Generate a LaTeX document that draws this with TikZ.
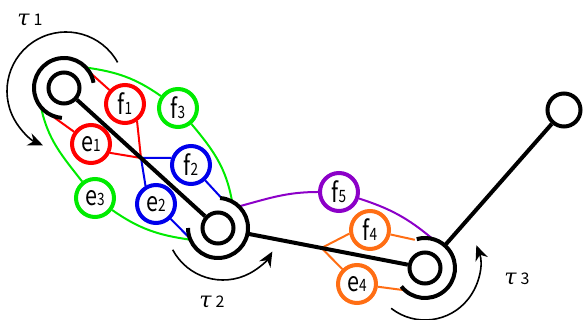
\documentclass[tikz,border=0pt]{standalone}
\usepackage{fontspec}
\setmainfont{Noto Sans CJK JP}
\newfontfamily\taufont{DejaVu Serif}
\usepackage{graphicx}
\usetikzlibrary{arrows.meta,calc}
\definecolor{cred}{RGB}{255,0,0}
\definecolor{cgreen}{RGB}{0,235,0}
\definecolor{cblue}{RGB}{0,0,235}
\definecolor{cpurple}{RGB}{140,0,200}
\definecolor{corange}{RGB}{255,110,20}
\newcommand\jointlbl[2]{\scalebox{0.8}[1]{\fontsize{27}{27}\selectfont #1\fontsize{17}{17}\selectfont #2}}
\newcommand\taulabel[1]{{\taufont\fontsize{22}{22}\selectfont\itshape τ}\hspace{4pt}{\fontsize{16}{16}\selectfont #1}}
\begin{document}
\begin{tikzpicture}[x=1pt,y=1pt,
  jin/.style={circle,draw,line width=4pt,inner sep=0pt,minimum size=31pt},
  jout/.style={circle,inner sep=0pt,outer sep=0pt,minimum size=60pt},
  jarc/.style={line width=4pt},
  link/.style={line width=4pt},
  cnode/.style={circle,draw=#1,line width=4pt,fill=white,inner sep=0pt,minimum size=38pt},
  conn/.style={draw=#1,line width=2pt},
  rot/.style={line width=1.6pt,-{Stealth[length=15pt,width=13pt]}},
  taulbl/.style={inner sep=0pt}
]
\useasboundingbox (0,0) rectangle (584,320);
% joints
\node[jin] (j1) at (64,232) {};
\node[jout] (j1o) at (64,232) {};
\node[jin] (j2) at (218,92) {};
\node[jout] (j2o) at (218,92) {};
\node[jin] (j3) at (425,52) {};
\node[jout] (j3o) at (425,52) {};
\node[jin,minimum size=33pt] (j4) at (564,210) {};
\coordinate (X) at ($(j1)!0.5!(j2)$);
\coordinate (Y) at ($(j2)!0.5!(j3)$);
% coloured nodes
\node[cnode=cred] (f1) at (125,216) {\jointlbl{f}{1}};
\node[cnode=cgreen] (f3) at (178,212) {\jointlbl{f}{3}};
\node[cnode=cred] (e1) at (91,176) {\jointlbl{e}{1}};
\node[cnode=cblue] (f2) at (191,155) {\jointlbl{f}{2}};
\node[cnode=cblue] (e2) at (156,116) {\jointlbl{e}{2}};
\node[cnode=cgreen] (e3) at (95,122) {\jointlbl{e}{3}};
\node[cnode=cpurple] (f5) at (339,128) {\jointlbl{f}{5}};
\node[cnode=corange] (f4) at (370,90) {\jointlbl{f}{4}};
\node[cnode=corange] (e4) at (357,36) {\jointlbl{e}{4}};
% connectors
\draw[conn=cred] (j1o.32) -- (f1);
\draw[conn=cred] (j1o.243) -- (e1);
\draw[conn=cred] (f1.-55) -- (X);
\draw[conn=cred] (e1.-25) -- (X);
\draw[conn=cblue] (X) -- (f2.160);
\draw[conn=cblue] (X) -- (e2.120);
\draw[conn=cblue] (e2) -- (j2o.200);
\draw[conn=cblue] (f2) -- (j2o.83);
\draw[conn=cgreen] (j1o.43) to[out=-8,in=145] (f3) to[out=-50,in=100] (j2o.62);
\draw[conn=cgreen] (j1o.220) to[out=-78,in=128] (e3) to[out=-35,in=172] (j2o.203);
\draw[conn=cpurple] (j2o.46) to[out=15,in=180] (f5) to[out=-18,in=140] (j3o.75);
\draw[conn=corange] (f4) -- (j3o.110);
\draw[conn=corange] (f4.190) -- (Y);
\draw[conn=corange] (Y) -- (e4);
\draw[conn=corange] (e4) -- (j3o.228);
% links and outer arcs
\draw[link] (j1) -- (j2);
\draw[link] (j2o) -- (j3);
\draw[link] (j3o) -- (j4);
\draw[jarc] (j1o.10) arc[start angle=10,end angle=266,radius=30pt];
\draw[jarc] (j2o.180) arc[start angle=180,end angle=446,radius=30pt];
\draw[jarc] (j3o.218) arc[start angle=218,end angle=466,radius=30pt];
% rotation arrows
\coordinate (c1) at (66,229);
\coordinate (c2) at (223,97);
\coordinate (c3) at (425,55);
\draw[rot] ($(c1)+(29:59)$) arc[start angle=29,end angle=247,radius=59pt];
\draw[rot] ($(c2)+(208:57)$) arc[start angle=208,end angle=330,radius=57pt];
\draw[rot] ($(c3)+(232:55)$) arc[start angle=232,end angle=381,radius=55pt];
\node[taulbl] (t1) at (30,300) {\taulabel{1}};
\node[taulbl] (t2) at (212,18) {\taulabel{2}};
\node[taulbl] (t3) at (517,41) {\taulabel{3}};
\end{tikzpicture}
\end{document}
